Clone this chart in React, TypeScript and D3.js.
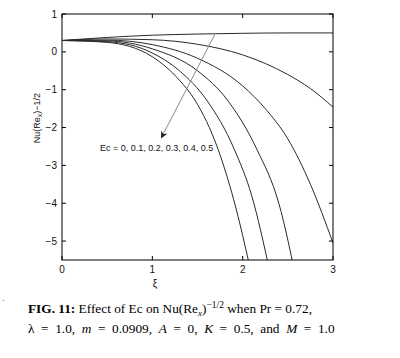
import * as d3 from 'd3';

// Nu(Re_x)^-1/2 versus xi for several Eckert numbers
const ecValues = [0, 0.1, 0.2, 0.3, 0.4, 0.5];

const xiEc0 = [0, 0.5, 1, 1.5, 2, 2.5, 3];
const nuEc0 = [0.30, 0.38, 0.44, 0.47, 0.49, 0.50, 0.50];

const xiEc1 = [0, 0.5, 1, 1.5, 2, 2.5, 2.75, 3];
const nuEc1 = [0.30, 0.34, 0.32, 0.20, -0.08, -0.60, -0.97, -1.46];

const xiEc2 = [0, 0.5, 1, 1.5, 2, 2.25, 2.5, 2.75, 3];
const nuEc2 = [0.30, 0.31, 0.19, -0.17, -0.90, -1.50, -2.30, -3.50, -5.05];

const xiEc3 = [0, 0.5, 1, 1.5, 1.83, 2.16, 2.4, 2.6];
const nuEc3 = [0.30, 0.29, 0.08, -0.50, -1.27, -2.59, -4.0, -6.1];

const xiEc4 = [0, 0.5, 1, 1.3, 1.6, 1.91, 2.1, 2.3];
const nuEc4 = [0.30, 0.27, -0.03, -0.50, -1.27, -2.59, -3.8, -5.8];

const xiEc5 = [0, 0.5, 1, 1.3, 1.47, 1.73, 1.9, 2.1];
const nuEc5 = [0.30, 0.25, -0.13, -0.75, -1.27, -2.59, -3.9, -5.9];

const xTicks = [0, 1, 2, 3];
const yTicks = [1, 0, -1, -2, -3, -4, -5];

const seriesXi = [xiEc0, xiEc1, xiEc2, xiEc3, xiEc4, xiEc5];
const seriesNu = [nuEc0, nuEc1, nuEc2, nuEc3, nuEc4, nuEc5];

export default function App() {
    const margin = { top: 14, right: 67, bottom: 98, left: 62 };
    const width = 400;
    const height = 358;
    const innerW = width - margin.left - margin.right;
    const innerH = height - margin.top - margin.bottom;

    const x = d3.scaleLinear().domain([0, 3]).range([0, innerW]);
    const y = d3.scaleLinear().domain([-5.5, 1]).range([innerH, 0]);

    const line = d3.line<[number, number]>()
        .x(d => x(d[0]))
        .y(d => y(d[1]))
        .curve(d3.curveMonotoneX);

    const font = 'Liberation Sans, Arial, sans-serif';
    const tick = 4;

    // arrow pointing from the top curve down to the label
    const arrowFrom: [number, number] = [1.70, 0.50];
    const arrowTo: [number, number] = [1.10, -2.27];

    return (
        <div style={{ position: 'absolute', left: 0, top: 0 }}>
            <svg width={width} height={height} style={{ display: 'block', background: '#fff' }}>
                <defs>
                    <clipPath id="plot">
                        <rect x={0} y={0} width={innerW} height={innerH} />
                    </clipPath>
                    <marker id="arrow" viewBox="0 0 10 10" refX="9" refY="5" markerWidth="7" markerHeight="7" orient="auto">
                        <path d="M0,0 L10,5 L0,10 L3,5 Z" fill="#222" />
                    </marker>
                </defs>
                <g transform={`translate(${margin.left},${margin.top})`}>
                    <g clipPath="url(#plot)">
                        {ecValues.map((ec, i) => (
                            <path
                                key={ec}
                                d={line(seriesXi[i].map((v, j) => [v, seriesNu[i][j]] as [number, number])) || ''}
                                fill="none"
                                stroke="#2a2a2a"
                                strokeWidth={1}
                            />
                        ))}
                    </g>
                    <line
                        x1={x(arrowFrom[0])} y1={y(arrowFrom[1])}
                        x2={x(arrowTo[0])} y2={y(arrowTo[1])}
                        stroke="#8a8a8a" strokeWidth={1}
                        markerEnd="url(#arrow)"
                    />
                    <text x={x(0.42)} y={y(-2.62)} fontFamily={font} fontSize={9} fill="#111">
                        {'Ec = ' + ecValues.join(', ')}
                    </text>

                    <rect x={0} y={0} width={innerW} height={innerH} fill="none" stroke="#000" strokeWidth={1} />

                    {xTicks.map(t => (
                        <g key={'x' + t}>
                            <line x1={x(t)} x2={x(t)} y1={innerH} y2={innerH - tick} stroke="#000" />
                            <line x1={x(t)} x2={x(t)} y1={0} y2={tick} stroke="#000" />
                            <text x={x(t)} y={innerH + 13} textAnchor="middle" fontFamily={font} fontSize={10} fill="#111">{t}</text>
                        </g>
                    ))}
                    {yTicks.map(t => (
                        <g key={'y' + t}>
                            <line x1={0} x2={tick} y1={y(t)} y2={y(t)} stroke="#000" />
                            <line x1={innerW} x2={innerW - tick} y1={y(t)} y2={y(t)} stroke="#000" />
                            <text x={-5} y={y(t) + 3.5} textAnchor="end" fontFamily={font} fontSize={10} fill="#111">
                                {t < 0 ? '\u2212' + Math.abs(t) : t}
                            </text>
                        </g>
                    ))}

                    <text x={x(1.03)} y={innerH + 27} textAnchor="middle" fontFamily={font} fontSize={10} fill="#111">ξ</text>
                    <text
                        transform={`translate(-22,${y(-1.75)}) rotate(-90)`}
                        textAnchor="middle" fontFamily={font} fontSize={9} fill="#111"
                    >
                        Nu(Re<tspan fontSize={7} dy={2}>x</tspan><tspan dy={-2}>)</tspan>−1/2
                    </text>
                </g>

                <text x={2} y={301} fontFamily={font} fontSize={10} fill="#5a7aa8">.</text>
                <g fontFamily="Liberation Serif, Times New Roman, serif" fontSize={13.3} fill="#000">
                    <text x={28} y={313}>
                        <tspan fontWeight="bold">FIG. 11:</tspan>
                        <tspan> Effect of Ec on Nu(Re</tspan>
                        <tspan fontStyle="italic" fontSize={9} dy={3}>x</tspan>
                        <tspan dy={-3}>)</tspan>
                        <tspan fontSize={9.5} dy={-5}>−1/2</tspan>
                        <tspan dy={5}> when Pr = 0.72,</tspan>
                    </text>
                    <text x={28} y={333} wordSpacing={3.3}>
                        <tspan>λ = 1.0, </tspan>
                        <tspan fontStyle="italic">m</tspan>
                        <tspan> = 0.0909, </tspan>
                        <tspan fontStyle="italic">A</tspan>
                        <tspan> = 0, </tspan>
                        <tspan fontStyle="italic">K</tspan>
                        <tspan> = 0.5, and </tspan>
                        <tspan fontStyle="italic">M</tspan>
                        <tspan> = 1.0</tspan>
                    </text>
                </g>
            </svg>
        </div>
    );
}
